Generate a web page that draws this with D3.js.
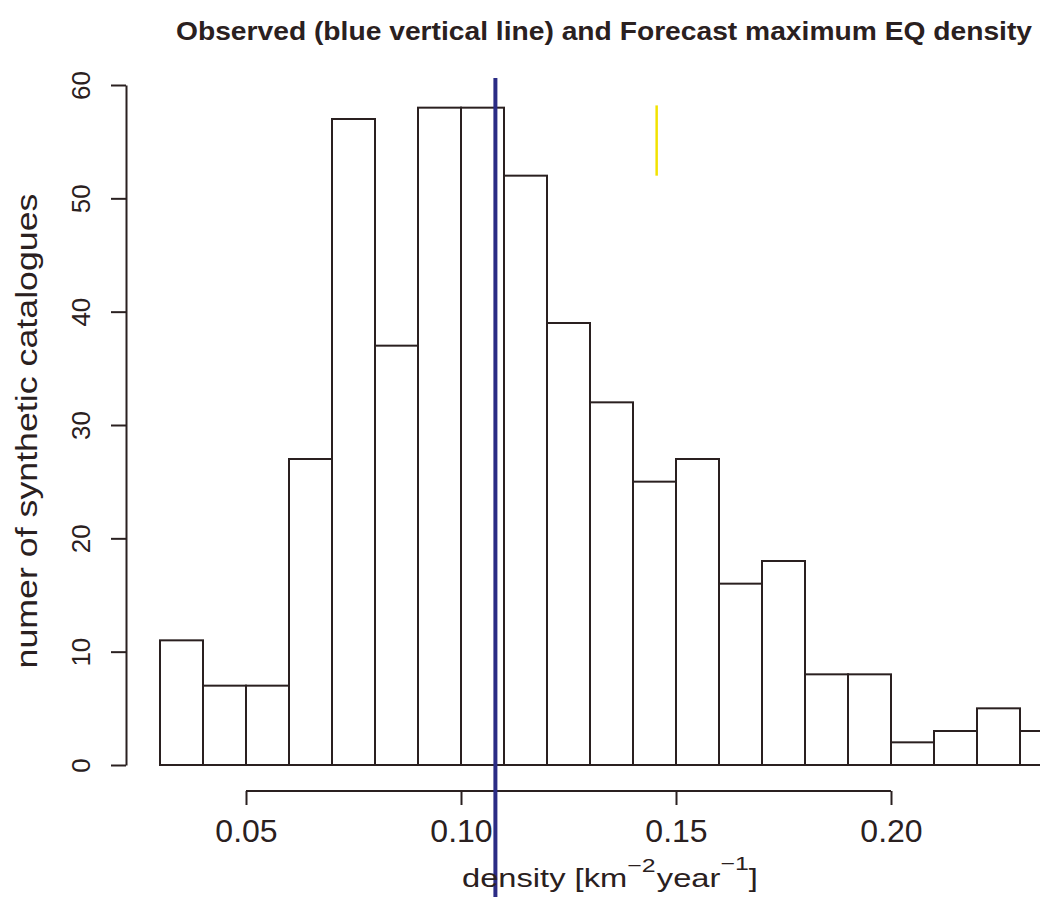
<!DOCTYPE html>
<html>
<head>
<meta charset="utf-8">
<script src="https://cdn.jsdelivr.net/npm/d3@7"></script>
<style>
  body { margin: 0; background: #fff; }
  svg { display: block; font-family: "Liberation Sans", Arial, sans-serif; }
</style>
</head>
<body>
<div id="chart"></div>
<script>
// histogram of maximum EQ density over synthetic catalogues
const binStart = 0.03;
const binWidth = 0.01;
const counts = [11, 7, 7, 27, 57, 37, 58, 58, 52, 39, 32, 25, 27, 16, 18, 8, 8, 2, 3, 5, 3];
const xTicks = [0.05, 0.10, 0.15, 0.20];
const yTicks = [0, 10, 20, 30, 40, 50, 60];
const observed = 0.108;          // blue line
const forecast = 0.1455;         // yellow segment
const forecastRange = [52, 58.2];

const W = 1040, H = 897;
const ink = "#2a2020";

const bins = counts.map((c, i) => ({x0: binStart + i * binWidth, x1: binStart + (i + 1) * binWidth, n: c}));

const x = d3.scaleLinear().domain([0.03, 0.24]).range([160, 1063]);
const y = d3.scaleLinear().domain([0, 60]).range([765, 85]);

const svg = d3.select("#chart").append("svg")
    .attr("width", W)
    .attr("height", H);

svg.append("rect").attr("width", W).attr("height", H).attr("fill", "#fff");

// bars
svg.append("g").selectAll("rect")
    .data(bins)
    .join("rect")
    .attr("x", d => x(d.x0))
    .attr("y", d => y(d.n))
    .attr("width", d => x(d.x1) - x(d.x0))
    .attr("height", d => y(0) - y(d.n))
    .attr("fill", "#fff")
    .attr("stroke", ink)
    .attr("stroke-width", 2);

// x axis
const xAxis = svg.append("g")
    .attr("transform", "translate(0,791)")
    .call(d3.axisBottom(x).tickValues(xTicks).tickSize(14).tickSizeOuter(0).tickFormat(d3.format(".2f")));
xAxis.select(".domain").attr("d", `M${x(xTicks[0])},0H${x(xTicks[xTicks.length - 1])}`)
    .attr("stroke", ink).attr("stroke-width", 2);
xAxis.selectAll(".tick line").attr("stroke", ink).attr("stroke-width", 2);
xAxis.selectAll(".tick text")
    .attr("y", 51).attr("dy", null)
    .attr("fill", ink)
    .style("font-size", "32px");

// y axis
const yAxis = svg.append("g")
    .attr("transform", "translate(126,0)")
    .call(d3.axisLeft(y).tickValues(yTicks).tickSize(15).tickSizeOuter(0));
yAxis.select(".domain").attr("stroke", ink).attr("stroke-width", 2);
yAxis.selectAll(".tick line").attr("stroke", ink).attr("stroke-width", 2);
yAxis.selectAll(".tick text")
    .attr("x", null).attr("dy", null)
    .attr("text-anchor", "middle")
    .attr("transform", "translate(-36,0) rotate(-90)")
    .attr("fill", ink)
    .style("font-size", "26px");

// observed and forecast lines
svg.append("line")
    .attr("x1", x(observed)).attr("x2", x(observed))
    .attr("y1", 78).attr("y2", H)
    .attr("stroke", "#2b2c85")
    .attr("stroke-width", 4);

svg.append("line")
    .attr("x1", x(forecast)).attr("x2", x(forecast))
    .attr("y1", y(forecastRange[1])).attr("y2", y(forecastRange[0]))
    .attr("stroke", "#f2e200")
    .attr("stroke-width", 2.5);

// title
svg.append("text")
    .attr("x", 176).attr("y", 40)
    .attr("font-weight", "bold")
    .attr("fill", ink)
    .style("font-size", "25px")
    .attr("textLength", 856)
    .attr("lengthAdjust", "spacingAndGlyphs")
    .text("Observed (blue vertical line) and Forecast maximum EQ density");

// y label
svg.append("text")
    .attr("transform", "translate(37,431) rotate(-90)")
    .attr("text-anchor", "middle")
    .attr("fill", ink)
    .style("font-size", "29px")
    .attr("textLength", 475)
    .attr("lengthAdjust", "spacingAndGlyphs")
    .text("numer of synthetic catalogues");

// x label with superscripts
const xl = svg.append("g").attr("transform", "translate(462,887)");
const xt = xl.append("text").attr("fill", ink).style("font-size", "25px");
xt.append("tspan").text("density [km");
xt.append("tspan").attr("dy", -15).style("font-size", "19px").text("\u22122");
xt.append("tspan").attr("dy", 15).attr("dx", 1).text("year");
xt.append("tspan").attr("dy", -17).style("font-size", "19px").text("\u22121");
xt.append("tspan").attr("dy", 17).text("]");
const xw = xt.node().getBBox().width;
xt.attr("transform", `scale(${296 / xw},1)`);
</script>
</body>
</html>
